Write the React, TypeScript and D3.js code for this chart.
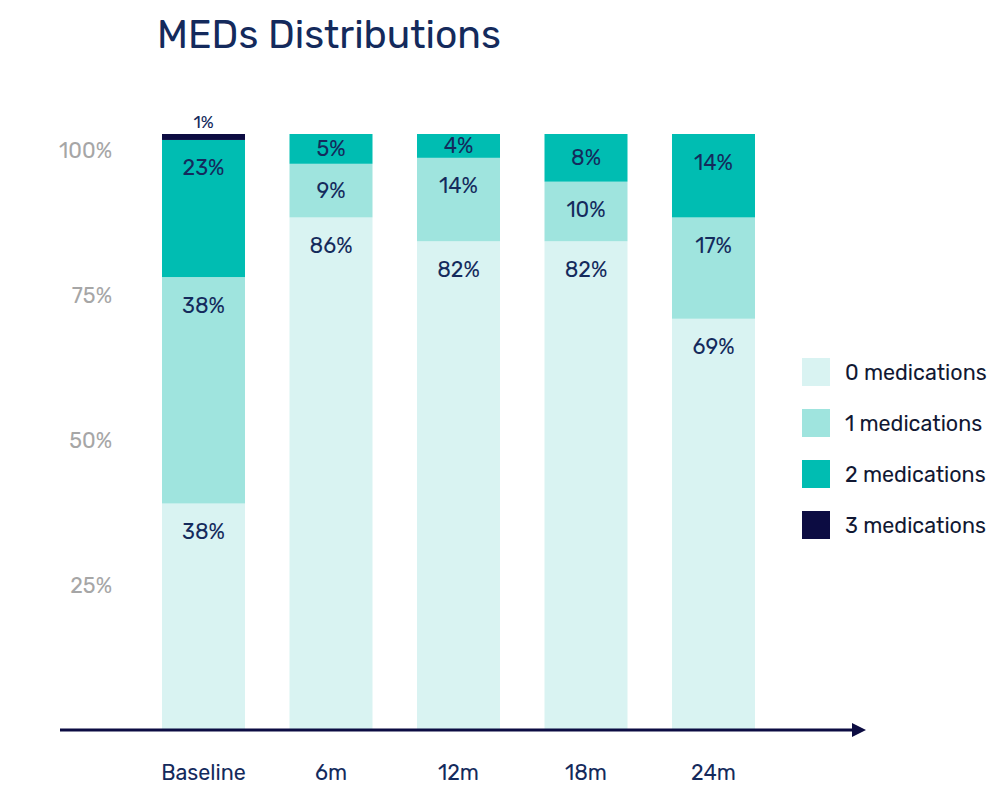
import React from "react";
import * as d3 from "d3";

const categories = ["Baseline", "6m", "12m", "18m", "24m"];
const seriesNames = ["0 medications", "1 medications", "2 medications", "3 medications"];
const med0 = [38, 86, 82, 82, 69];
const med1 = [38, 9, 14, 10, 17];
const med2 = [23, 5, 4, 8, 14];
const med3 = [1, 0, 0, 0, 0];
const tickValues = [25, 50, 75, 100];
const colors = ["#d9f3f2", "#9fe4de", "#00bdb2", "#0c0c42"];

const W = 1000;
const H = 795;
const NAVY = "#142a5c";
const FONT = "Rubik, Inter, 'Noto Sans', sans-serif";

export default function App() {
  const rows = categories.map((c, i) => ({
    cat: c,
    s0: med0[i],
    s1: med1[i],
    s2: med2[i],
    s3: med3[i],
  }));
  const keys = ["s0", "s1", "s2", "s3"];
  const stack = d3.stack<any>().keys(keys)(rows);

  const x = d3.scaleBand().domain(categories).range([162, 755]).paddingInner(0.349).paddingOuter(0);
  const y = d3.scaleLinear().domain([0, 100]).range([730, 134]);
  const yTick = d3.scaleLinear().domain([0, 100]).range([730, 150]);

  return (
    <svg width={W} height={H} style={{ display: "block", position: "absolute", left: 0, top: 0 }}>
      <rect width={W} height={H} fill="#ffffff" />
      <text x={157} y={48} fontFamily={FONT} fontSize={39} fill={NAVY}>
        MEDs Distributions
      </text>
      {tickValues.map((t) => (
        <text
          key={t}
          x={112}
          y={yTick(t)}
          textAnchor="end"
          dominantBaseline="central"
          fontFamily={FONT}
          fontSize={21.5}
          fill="#a6a6a6"
        >
          {t}%
        </text>
      ))}
      {stack.map((layer, li) => (
        <g key={li}>
          {layer.map((d, i) => {
            const v = d[1] - d[0];
            if (v <= 0) return null;
            const xx = x(categories[i])!;
            return (
              <rect
                key={i}
                x={xx}
                y={y(d[1])}
                width={x.bandwidth()}
                height={y(d[0]) - y(d[1])}
                fill={colors[li]}
              />
            );
          })}
        </g>
      ))}
      {stack.map((layer, li) => (
        <g key={"l" + li}>
          {layer.map((d, i) => {
            const v = d[1] - d[0];
            if (v <= 0) return null;
            const cx = x(categories[i])! + x.bandwidth() / 2;
            const small = v < 3;
            const top = y(d[1]);
            const mid = (y(d[0]) + y(d[1])) / 2;
            const cy = small ? top - 12 : Math.min(mid, top + 28);
            return (
              <text
                key={i}
                x={cx}
                y={cy}
                textAnchor="middle"
                dominantBaseline="central"
                fontFamily={FONT}
                fontSize={small ? 17 : 21.5}
                fill={NAVY}
              >
                {v}%
              </text>
            );
          })}
        </g>
      ))}
      <line x1={60} x2={854} y1={730} y2={730} stroke="#0c0c42" strokeWidth={3} />
      <path d="M852,723 L866,730 L852,737 Z" fill="#0c0c42" />
      {categories.map((c) => (
        <text
          key={c}
          x={x(c)! + x.bandwidth() / 2}
          y={772}
          textAnchor="middle"
          dominantBaseline="central"
          fontFamily={FONT}
          fontSize={21.5}
          fill={NAVY}
        >
          {c}
        </text>
      ))}
      {seriesNames.map((s, i) => (
        <g key={s} transform={`translate(802, ${358 + i * 51})`}>
          <rect width={28} height={28} fill={colors[i]} />
          <text x={43} y={14} dominantBaseline="central" fontFamily={FONT} fontSize={21.5} fill="#111833">
            {s}
          </text>
        </g>
      ))}
    </svg>
  );
}
